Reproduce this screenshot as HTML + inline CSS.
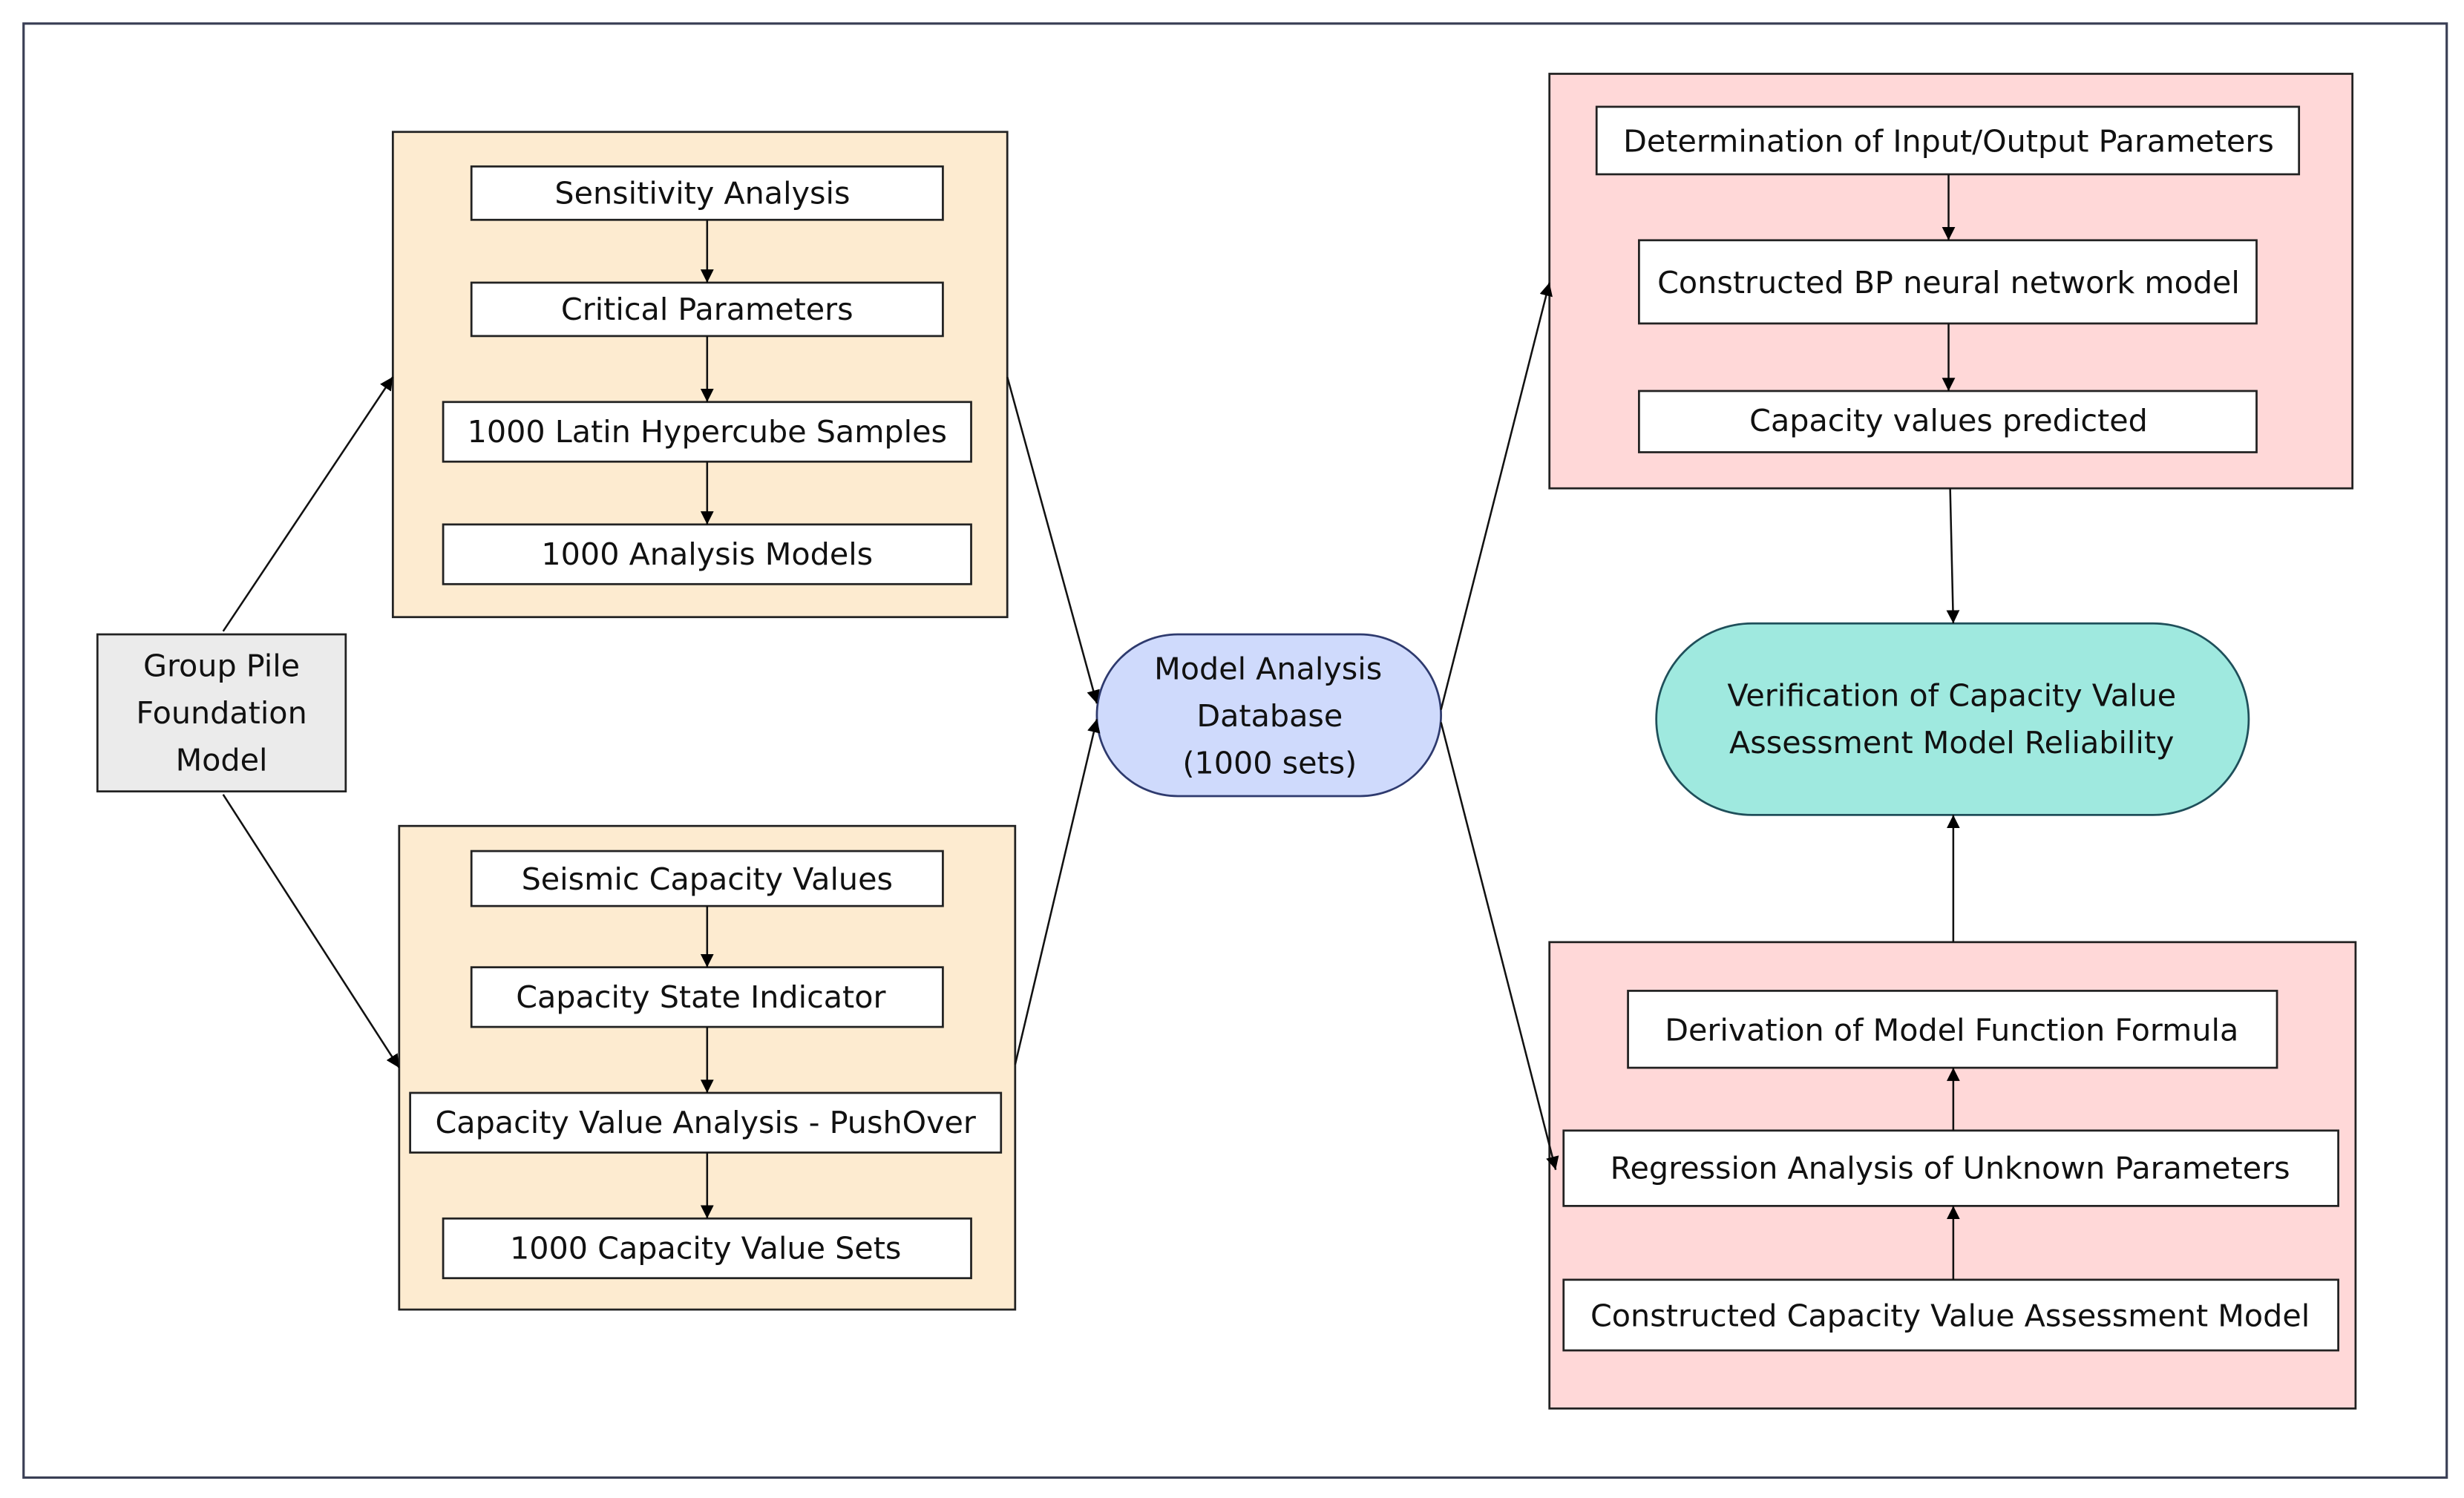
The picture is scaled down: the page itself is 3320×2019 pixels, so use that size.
<!DOCTYPE html>
<html><head><meta charset="utf-8"><style>
html,body{margin:0;padding:0;background:#fff;}
svg{display:block;}
text{font-family:"DejaVu Sans","Liberation Sans",sans-serif;font-size:19.5px;fill:#111;text-anchor:middle;dominant-baseline:central;}
</style></head><body>
<svg width="3320" height="2019" viewBox="0 0 1568 954" preserveAspectRatio="none" xmlns="http://www.w3.org/2000/svg">
<defs><marker id="a" viewBox="0 0 10 10" refX="10" refY="5" markerWidth="7" markerHeight="7" orient="auto-start-reverse"><path d="M0,0L10,5L0,10z" fill="#000"/></marker></defs>
<rect x="0" y="0" width="1568" height="954" fill="#fff"/>
<rect x="15" y="15" width="1542" height="926" fill="#fff" stroke="#3a3f55" stroke-width="1.5"/>
<g stroke="#222" stroke-width="1.3">
<rect x="250" y="84" width="391" height="309" fill="#fdebd0"/>
<rect x="254" y="526" width="392" height="308" fill="#fdebd0"/>
<rect x="986" y="47" width="511" height="264" fill="#ffd8d8"/>
<rect x="986" y="600" width="513" height="297" fill="#ffd8d8"/>
<rect x="300" y="106" width="300" height="34" fill="#fff"/>
<rect x="300" y="180" width="300" height="34" fill="#fff"/>
<rect x="282" y="256" width="336" height="38" fill="#fff"/>
<rect x="282" y="334" width="336" height="38" fill="#fff"/>
<rect x="300" y="542" width="300" height="35" fill="#fff"/>
<rect x="300" y="616" width="300" height="38" fill="#fff"/>
<rect x="261" y="696" width="376" height="38" fill="#fff"/>
<rect x="282" y="776" width="336" height="38" fill="#fff"/>
<rect x="62" y="404" width="158" height="100" fill="#ebebeb"/>
<rect x="1016" y="68" width="447" height="43" fill="#fff"/>
<rect x="1043" y="153" width="393" height="53" fill="#fff"/>
<rect x="1043" y="249" width="393" height="39" fill="#fff"/>
<rect x="1036" y="631" width="413" height="49" fill="#fff"/>
<rect x="995" y="720" width="493" height="48" fill="#fff"/>
<rect x="995" y="815" width="493" height="45" fill="#fff"/>
</g>
<rect x="698" y="404" width="219" height="103" rx="51.5" fill="#cfdafc" stroke="#2e3a6e" stroke-width="1.3"/>
<rect x="1054" y="397" width="377" height="122" rx="61" fill="#9fe9df" stroke="#1f4f5a" stroke-width="1.3"/>
<g stroke="#111" stroke-width="1.2" fill="none" marker-end="url(#a)">
<line x1="450" y1="140" x2="450" y2="180"/>
<line x1="450" y1="214" x2="450" y2="256"/>
<line x1="450" y1="294" x2="450" y2="334"/>
<line x1="450" y1="577" x2="450" y2="616"/>
<line x1="450" y1="654" x2="450" y2="696"/>
<line x1="450" y1="734" x2="450" y2="776"/>
<line x1="1240" y1="111" x2="1240" y2="153"/>
<line x1="1240" y1="206" x2="1240" y2="249"/>
<line x1="1243" y1="720" x2="1243" y2="680"/>
<line x1="1243" y1="815" x2="1243" y2="768"/>
<line x1="142" y1="402" x2="250" y2="240"/>
<line x1="142" y1="506" x2="254" y2="680"/>
<line x1="641" y1="240" x2="698" y2="448"/>
<line x1="646" y1="678" x2="698" y2="458"/>
<line x1="917" y1="452" x2="986" y2="180"/>
<line x1="917" y1="460" x2="990" y2="745"/>
<line x1="1241" y1="311" x2="1243" y2="397"/>
<line x1="1243" y1="600" x2="1243" y2="519"/>
</g>
<text x="447" y="123">Sensitivity Analysis</text>
<text x="450" y="197">Critical Parameters</text>
<text x="450" y="275">1000 Latin Hypercube Samples</text>
<text x="450" y="353">1000 Analysis Models</text>
<text x="450" y="560">Seismic Capacity Values</text>
<text x="446" y="635">Capacity  State Indicator</text>
<text x="449" y="715">Capacity Value Analysis - PushOver</text>
<text x="449" y="795">1000 Capacity Value Sets</text>
<text x="141" y="424">Group Pile</text>
<text x="141" y="454">Foundation</text>
<text x="141" y="484">Model</text>
<text x="807" y="426">Model Analysis</text>
<text x="808" y="456">Database</text>
<text x="808" y="486">(1000 sets)</text>
<text x="1240" y="90">Determination of Input/Output Parameters</text>
<text x="1240" y="180">Constructed BP neural network model</text>
<text x="1240" y="268">Capacity values predicted</text>
<text x="1242" y="443">Verification of Capacity Value</text>
<text x="1242" y="473">Assessment Model Reliability</text>
<text x="1242" y="656">Derivation of Model Function Formula</text>
<text x="1241" y="744">Regression Analysis of Unknown Parameters</text>
<text x="1241" y="838">Constructed Capacity Value Assessment Model</text>
</svg>
</body></html>
